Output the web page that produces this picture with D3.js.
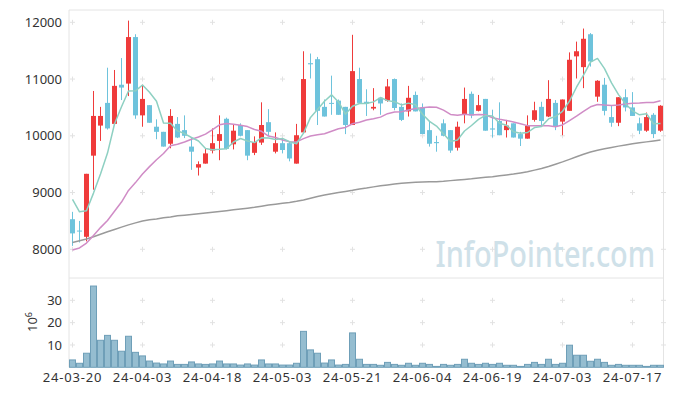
<!DOCTYPE html>
<html>
<head>
<meta charset="utf-8">
<script src="https://cdn.jsdelivr.net/npm/d3@7"></script>
<style>
  html, body { margin: 0; padding: 0; background: #fff; }
  svg { display: block; font-family: "Noto Sans", sans-serif; }
  .tick text { fill: #333; font-size: 13px; }
</style>
</head>
<body>
<svg id="chart" width="673" height="396"></svg>
<script>
// ─── Data ───────────────────────────────────────────────────────────────────
const dates = ['24-03-20','24-03-21','24-03-22','24-03-25','24-03-26','24-03-27','24-03-28','24-03-29',
  '24-04-01','24-04-02','24-04-03','24-04-04','24-04-05','24-04-08','24-04-09','24-04-11','24-04-12',
  '24-04-15','24-04-16','24-04-17','24-04-18','24-04-19','24-04-22','24-04-23','24-04-24','24-04-25',
  '24-04-26','24-04-29','24-04-30','24-05-02','24-05-03','24-05-07','24-05-08','24-05-09','24-05-10',
  '24-05-13','24-05-14','24-05-16','24-05-17','24-05-20','24-05-21','24-05-22','24-05-23','24-05-24',
  '24-05-27','24-05-28','24-05-29','24-05-30','24-05-31','24-06-03','24-06-04','24-06-05','24-06-07',
  '24-06-10','24-06-11','24-06-12','24-06-13','24-06-14','24-06-17','24-06-18','24-06-19','24-06-20',
  '24-06-21','24-06-24','24-06-25','24-06-26','24-06-27','24-06-28','24-07-01','24-07-02','24-07-03',
  '24-07-04','24-07-05','24-07-08','24-07-09','24-07-10','24-07-11','24-07-12','24-07-15','24-07-16',
  '24-07-17','24-07-18','24-07-19','24-07-22','24-07-23'];

const opens = [8530,8330,8220,9650,10180,10580,10210,10900,10920,11740,
  10360,10540,10160,10070,9860,10210,10100,9810,9440,9510,
  9740,9910,10300,9850,10190,10100,9700,9880,10240,9720,
  9870,9870,9510,10060,11280,11350,10510,10580,10620,10510,
  10190,11000,10600,10480,10670,10620,11000,10510,10430,10720,
  10500,10100,9890,10220,10100,9790,10370,10740,10440,10650,
  10130,10260,10100,10220,10030,9950,10280,10510,10340,10580,
  10250,10440,11400,11210,11790,10690,10900,10330,10230,10680,
  10500,10220,10090,10370,10090];
const highs = [8660,8500,9330,10790,10510,11200,11160,11370,12030,11790,
  10900,10540,10290,10070,10470,10330,10360,9960,9550,9780,
  10130,10360,10320,10200,10220,10100,9990,10590,10470,10060,
  9960,9900,10210,11490,11450,11390,10640,11060,10640,10510,
  11780,11200,10820,10840,10680,11000,11010,10570,10880,10780,
  10570,10250,10000,10290,10100,10250,10850,10780,10720,10650,
  10460,10590,10280,10220,10070,10360,10600,10600,10980,10630,
  10640,11470,11660,11890,11810,10980,11020,10540,10680,10820,
  10770,10320,10410,10400,10540];
const lows = [8060,8120,8140,9050,9910,10110,10210,10630,10700,10300,
  10160,10230,9940,9810,9780,9960,9960,9400,9300,9510,
  9690,9570,9760,9760,9990,9570,9660,9840,10000,9690,
  9690,9550,9510,10060,11010,10190,10340,10370,10370,10030,
  10190,10570,10350,10450,10370,10600,10450,10260,10340,10430,
  10030,9810,9720,9990,9700,9740,10220,10310,10430,10090,
  9970,10010,9970,9970,9820,9950,10250,10190,10330,10100,
  10010,10440,11010,10840,11220,10600,10360,10160,10170,10430,
  10350,10030,10070,9960,10070];
const closes = [8280,8320,9330,10350,10350,10130,10880,10850,11740,10360,
  10650,10230,10070,9810,10350,9970,10000,9720,9500,9690,
  9870,10030,9770,10090,10000,9650,9890,10190,10070,9870,
  9750,9600,10010,11000,11260,10440,10340,10570,10370,10190,
  11140,10580,10570,10510,10570,10870,10490,10280,10670,10430,
  10030,9860,9870,10000,9740,10160,10650,10360,10540,10090,
  10110,10010,10180,9970,9950,10180,10450,10260,10650,10160,
  10640,11340,11490,11710,11310,10970,10440,10230,10680,10500,
  10350,10090,10330,10030,10530];

// volume, millions of shares
const volumes = [3.3,1.8,6.3,36.4,12.1,14.3,12.1,7.2,13.9,6.7,
  5.1,2.8,1.9,1.5,2.8,1.3,1.3,2.4,1.5,1.3,
  1.5,2.8,1.5,1.5,1.0,1.5,1.0,3.3,1.5,1.5,
  1.0,1.0,1.8,16.1,7.8,6.3,1.9,3.3,1.0,1.3,
  15.4,3.6,1.3,1.3,0.9,2.2,1.3,0.9,1.8,0.9,
  1.8,1.3,0.4,1.3,0.9,1.3,3.6,1.8,1.3,1.8,
  1.3,1.8,0.9,0.9,0.4,1.3,2.2,1.3,3.6,1.3,
  1.8,9.9,5.4,5.4,2.7,3.6,2.2,0.9,1.3,0.9,
  0.9,0.9,0.4,0.9,0.9];

// moving-average lines as drawn
const ma5 = [8880,8660,8680,8990,9326,9696,10208,10512,10790,10792,
  10896,10766,10610,10224,10222,10086,10040,9970,9908,9776,
  9756,9762,9772,9890,9952,9908,9880,9964,9960,9934,
  9954,9896,9860,10046,10324,10462,10610,10722,10596,10382,
  10522,10570,10570,10598,10674,10620,10602,10544,10576,10548,
  10380,10254,10172,10038,9900,9926,10084,10182,10290,10360,
  10350,10222,10186,10072,10044,10058,10146,10162,10298,10340,
  10432,10610,10856,11068,11298,11364,11184,10932,10726,10564,
  10440,10370,10390,10212,10218];
const ma20 = [7988,8023,8109,8245,8382,8507,8670,8832,9038,9175,
  9326,9457,9579,9689,9825,9852,9891,9940,9978,10029,
  10109,10194,10216,10203,10186,10162,10112,10079,9996,9971,
  9926,9895,9892,9951,9997,10020,10037,10080,10123,10148,
  10212,10239,10279,10300,10329,10390,10420,10424,10454,10482,
  10496,10509,10502,10452,10376,10362,10378,10367,10376,10371,
  10319,10291,10271,10244,10213,10179,10177,10176,10175,10161,
  10192,10266,10347,10432,10511,10551,10541,10534,10541,10562,
  10574,10578,10585,10588,10617];
const maLong = [8120,8150,8180,8220,8265,8310,8350,8390,8430,8465,
  8500,8520,8535,8555,8570,8590,8600,8612,8625,8640,
  8652,8665,8680,8695,8710,8725,8740,8760,8780,8795,
  8810,8825,8845,8870,8900,8930,8955,8980,9000,9020,
  9040,9063,9080,9100,9118,9135,9150,9162,9173,9180,
  9185,9189,9192,9198,9210,9220,9232,9242,9255,9268,
  9280,9295,9310,9325,9345,9365,9395,9425,9460,9500,
  9540,9585,9630,9675,9715,9745,9770,9795,9818,9838,
  9858,9876,9893,9910,9928];

const priceTicks = [8000, 9000, 10000, 11000, 12000];
const volumeTicks = [10, 20, 30];
const dateTicks = ['24-03-20','24-04-03','24-04-18','24-05-03','24-05-21','24-06-04','24-06-19','24-07-03','24-07-17'];

// ─── Layout ─────────────────────────────────────────────────────────────────
const UP = '#ef3b3b', DOWN = '#6ec3dc';
const plotL = 69, plotR = 663.5, plotT = 10, plotSplit = 278, plotB = 367.3;
const svg = d3.select('#chart');

const x = d3.scaleBand().domain(d3.range(dates.length)).range([plotL, plotL + 7 * dates.length]);
const xDate = d3.scaleBand().domain(dates).range(x.range());
const yP = d3.scaleLinear().domain([7494, 12217]).range([plotSplit, plotT]);
const yV = d3.scaleLinear().domain([0, 40]).range([plotB, plotSplit]);
const cx = i => x(i) + x.bandwidth() / 2;

// frame
const frame = svg.append('g').attr('stroke', '#e4e4e4').attr('stroke-width', 1).attr('fill', 'none');
frame.append('line').attr('x1', plotL).attr('x2', plotL).attr('y1', plotT).attr('y2', plotB);
frame.append('line').attr('x1', plotR).attr('x2', plotR).attr('y1', plotT).attr('y2', plotB);
frame.append('line').attr('x1', plotL).attr('x2', plotR).attr('y1', plotT).attr('y2', plotT);
frame.append('line').attr('x1', plotL).attr('x2', plotR).attr('y1', plotSplit).attr('y2', plotSplit);

// grid crosses
const crossG = svg.append('g').attr('stroke', '#e2e2e2').attr('stroke-width', 1);
const crossXs = dateTicks.map(d => xDate(d) + xDate.bandwidth() / 2).concat([plotR]);
const crossYs = priceTicks.map(yP).concat(volumeTicks.map(yV));
for (const cxv of crossXs) {
  for (const cyv of crossYs) {
    crossG.append('line').attr('x1', cxv - 2.5).attr('x2', cxv + 2.5).attr('y1', cyv).attr('y2', cyv);
    crossG.append('line').attr('x1', cxv).attr('x2', cxv).attr('y1', cyv - 2.5).attr('y2', cyv + 2.5);
  }
}

// watermark (condensed face, squeezed horizontally)
svg.append('text')
  .attr('transform', 'translate(655,266.5) scale(0.78,1)')
  .attr('text-anchor', 'end')
  .attr('font-size', 37)
  .attr('font-weight', 500)
  .attr('fill', '#cfe1e9')
  .text('InfoPointer.com');

// ── Volume bars ──────────────────────────────────────
svg.append('g').selectAll('rect').data(volumes).join('rect')
  .attr('x', (_, i) => x(i) + 0.5)
  .attr('y', d => yV(d))
  .attr('width', x.bandwidth() - 1)
  .attr('height', d => yV(0) - yV(d))
  .attr('fill', '#95bdd0')
  .attr('stroke', '#6f9fb8')
  .attr('stroke-width', 1);

// ── Candles ──────────────────────────────────────────
const candles = svg.append('g');
const idx = d3.range(dates.length);
const colorOf = i => closes[i] >= opens[i] ? UP : DOWN;
candles.selectAll('rect.wick').data(idx).join('rect')
  .attr('class', 'wick')
  .attr('x', i => cx(i) - 0.5)
  .attr('y', i => yP(highs[i]))
  .attr('width', 1)
  .attr('height', i => Math.max(1, yP(lows[i]) - yP(highs[i])))
  .attr('fill', colorOf);
candles.selectAll('rect.body').data(idx).join('rect')
  .attr('class', 'body')
  .attr('x', i => cx(i) - 2.5)
  .attr('y', i => yP(Math.max(opens[i], closes[i])))
  .attr('width', 5)
  .attr('height', i => Math.max(1, Math.abs(yP(opens[i]) - yP(closes[i]))))
  .attr('fill', colorOf);

// ── Moving averages ──────────────────────────────────
const line = d3.line().x((_, i) => cx(i)).y(d => yP(d));
[[maLong, '#9a9a9a'], [ma20, '#d08cc6'], [ma5, '#8ed0c2']].forEach(([arr, col]) => {
  svg.append('path').datum(arr)
    .attr('d', line)
    .attr('fill', 'none')
    .attr('stroke', col)
    .attr('stroke-width', 1.5)
    .attr('stroke-linejoin', 'round');
});

// ── Axes ─────────────────────────────────────────────
const pAxis = svg.append('g').attr('transform', `translate(${plotL},0)`)
  .call(d3.axisLeft(yP).tickValues(priceTicks).tickSize(0).tickPadding(7).tickFormat(d3.format('d')));
const vAxis = svg.append('g').attr('transform', `translate(${plotL},0)`)
  .call(d3.axisLeft(yV).tickValues(volumeTicks).tickSize(0).tickPadding(7));
const xAxis = svg.append('g').attr('transform', `translate(0,${plotB})`)
  .call(d3.axisBottom(xDate).tickValues(dateTicks).tickSize(0).tickPadding(5.5));
xAxis.selectAll('text').attr('letter-spacing', '0.8px');
[pAxis, vAxis, xAxis].forEach(a => { a.select('.domain').remove(); a.attr('font-family', null).attr('font-size', null); });

// volume unit label
const unit = svg.append('text')
  .attr('transform', 'translate(37,332) rotate(-90)')
  .attr('font-size', 13).attr('fill', '#333');
unit.append('tspan').text('10');
unit.append('tspan').attr('dy', -5).attr('font-size', 9).text('6');
</script>
</body>
</html>
